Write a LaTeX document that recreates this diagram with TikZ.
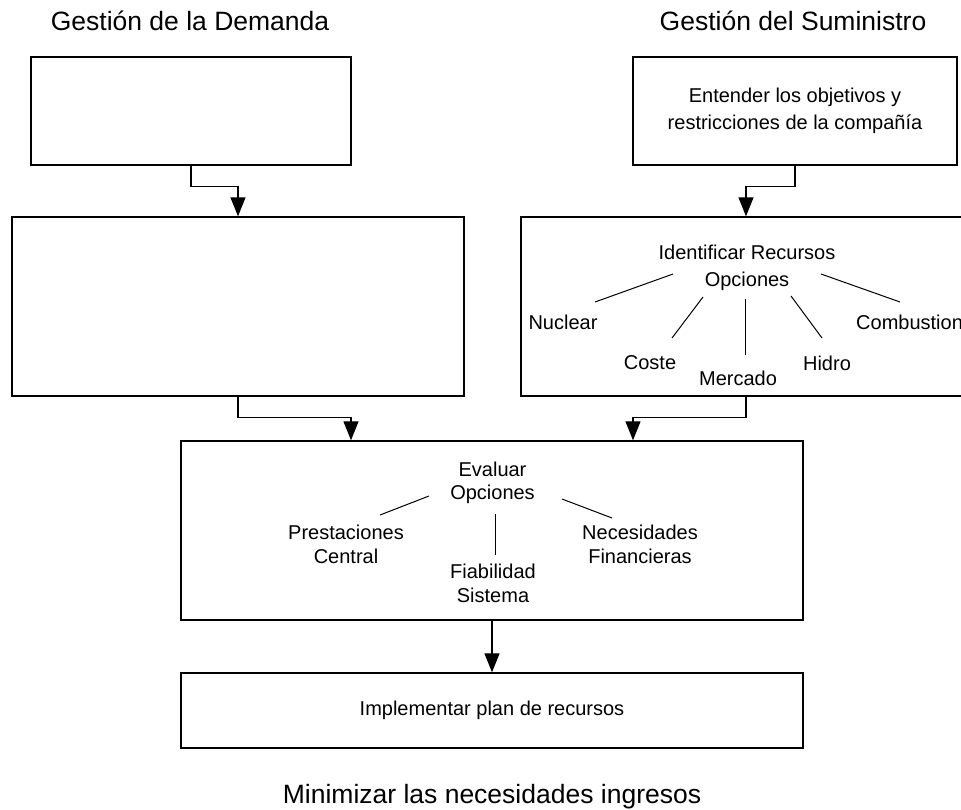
\documentclass[tikz,border=0pt]{standalone}
\usepackage{fontspec}
\setmainfont{Liberation Sans}
\usetikzlibrary{arrows.meta}
\begin{document}
\begin{tikzpicture}[x=1pt,y=-1pt,
  box/.style={draw=black, line width=1.4pt, fill=white, inner sep=0pt, align=center,
              font=\fontsize{20}{27}\selectfont},
  lblb/.style={inner sep=0pt, align=center, font=\fontsize{20}{27}\selectfont},
  lblc/.style={inner sep=0pt, align=center, font=\fontsize{20}{23.5}\selectfont},
  ttl/.style={inner sep=0pt, font=\fontsize{26.5}{31}\selectfont},
  arr/.style={draw=black, line width=1.2pt, -{Triangle[length=19pt,width=15pt]}},
  spoke/.style={draw=black, line width=1pt}]
\useasboundingbox (0,0) rectangle (961,809);
\clip (0,0) rectangle (961,809);

% titles
\node[ttl] (t1) at (190,21) {Gestión de la Demanda};
\node[ttl] (t2) at (793,21) {Gestión del Suministro};
\node[ttl, anchor=base] (t3) at (492,803) {Minimizar las necesidades ingresos};

% boxes
\node[box, minimum width=320, minimum height=108] (b1) at (191,111) {};
\node[box, minimum width=324, minimum height=108] (b3) at (795,111)
  {Entender los objetivos y\\restricciones de la compañía};
\node[box, minimum width=452, minimum height=179] (b2) at (238,306.5) {};
\node[box, minimum width=450, minimum height=179] (b4) at (746,306.5) {};
\node[box, minimum width=622, minimum height=179] (ev) at (492,530.5) {};
\node[box, minimum width=622, minimum height=75] (im) at (492,710.5) {Implementar plan de recursos};

% connectors
\draw[arr] (b1.south) -- ++(0,21) -| (b2.north);
\draw[arr] (b3.south) -- ++(0,21) -| (b4.north);
\draw[arr] (b2.south) -- ++(0,21) -| ([xshift=-141pt]ev.north);
\draw[arr] (b4.south) -- ++(0,21) -| ([xshift=141pt]ev.north);
\draw[arr] (ev.south) -- (im.north);

% resource options
\node[lblb] (h4) at (747,268) {Identificar Recursos\\Opciones};
\node[lblb] (nuc) at (563,322) {Nuclear};
\node[lblb] (cos) at (650,363) {Coste};
\node[lblb] (mer) at (738,378) {Mercado};
\node[lblb] (hid) at (827,363) {Hidro};
\node[lblb, anchor=west] (com) at (856,322) {Combustion};
\coordinate (s1a) at (673,274); \coordinate (s1b) at (595,302);
\coordinate (s2a) at (703,297); \coordinate (s2b) at (672,338);
\coordinate (s3a) at (745,299); \coordinate (s3b) at (745,355);
\coordinate (s4a) at (791,296); \coordinate (s4b) at (822,338);
\coordinate (s5a) at (821,274); \coordinate (s5b) at (900,302);
\draw[spoke] (s1a) -- (s1b);
\draw[spoke] (s2a) -- (s2b);
\draw[spoke] (s3a) -- (s3b);
\draw[spoke] (s4a) -- (s4b);
\draw[spoke] (s5a) -- (s5b);

% evaluation
\node[lblc] (he) at (492.5,483) {Evaluar\\Opciones};
\node[lblc] (pre) at (346,544.5) {Prestaciones\\Central};
\node[lblc] (fia) at (493,583.5) {Fiabilidad\\Sistema};
\node[lblc] (nec) at (640,544.5) {Necesidades\\Financieras};
\coordinate (e1a) at (429,496); \coordinate (e1b) at (380,515);
\coordinate (e2a) at (495,514); \coordinate (e2b) at (495,555);
\coordinate (e3a) at (562,499); \coordinate (e3b) at (612,518);
\draw[spoke] (e1a) -- (e1b);
\draw[spoke] (e2a) -- (e2b);
\draw[spoke] (e3a) -- (e3b);
\end{tikzpicture}
\end{document}
